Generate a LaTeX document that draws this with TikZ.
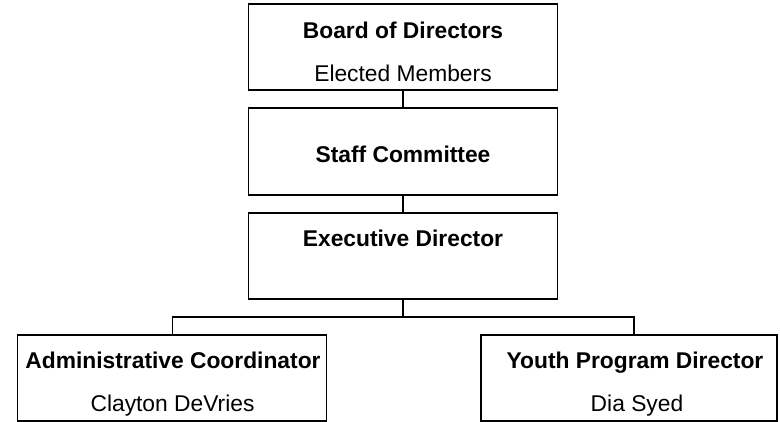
\documentclass[tikz,border=0pt]{standalone}
\usepackage{fontspec}
\setmainfont{Liberation Sans}
\begin{document}
\begin{tikzpicture}[x=1pt,y=-1pt,
  box/.style={draw=black,line width=1.3pt,fill=white,rectangle,inner sep=0pt},
  ttl/.style={anchor=base,inner sep=0pt,font=\fontsize{22.8}{26}\selectfont\bfseries},
  sub/.style={anchor=base,inner sep=0pt,font=\fontsize{22.8}{26}\selectfont},
  conn/.style={draw=black,line width=1.3pt}]
\useasboundingbox (0,0) rectangle (780,422);
% boxes
\node[box,minimum width=309.5pt,minimum height=86pt] (board) at (403,47) {};
\node[box,minimum width=309.5pt,minimum height=87pt] (staff) at (403,151.5) {};
\node[box,minimum width=309.5pt,minimum height=86pt] (exec) at (403,256) {};
\node[box,minimum width=309pt,minimum height=86pt] (admin) at (172.2,378) {};
\node[box,minimum width=296pt,minimum height=86pt] (youth) at (629,378) {};
% texts
\node[ttl] (boardT) at (403,39) {Board of Directors};
\node[sub] (boardS) at (403,82) {Elected Members};
\node[ttl] (staffT) at (403,163) {Staff Committee};
\node[ttl] (execT) at (403,247) {Executive Director};
\node[ttl] (adminT) at (173,368.5) {Administrative Coordinator};
\node[sub] (adminS) at (172.5,411) {Clayton DeVries};
\node[ttl] (youthT) at (635,368.5) {Youth Program Director};
\node[sub] (youthS) at (637,411) {Dia Syed};
% connectors
\coordinate (busL) at (172.2,317);
\coordinate (busM) at (403,317);
\coordinate (busR) at (634,317);
\draw[conn] (board.south) -- (staff.north);
\draw[conn] (staff.south) -- (exec.north);
\draw[conn] (exec.south) -- (busM);
\draw[conn] (admin.north) -- (busL) -- (busR) -- (busR |- youth.north);
\end{tikzpicture}
\end{document}
